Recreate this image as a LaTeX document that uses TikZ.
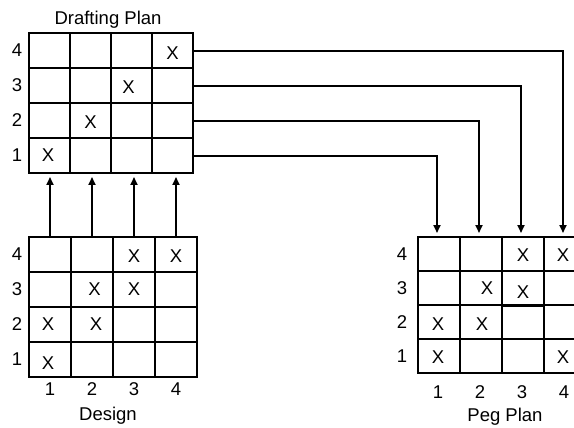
\documentclass[tikz,border=0pt]{standalone}
\usepackage{fontspec}
\setmainfont{Liberation Sans}
\usetikzlibrary{arrows.meta}
\tikzset{
  cellbox/.style={draw, line width=2pt, inner sep=0pt, outer sep=0pt},
  txt/.style={inner sep=0pt, font=\fontsize{18.5}{22}\selectfont},
  conn/.style={line width=1.8pt, -{Triangle[width=7pt,length=8pt]}, shorten >=4pt},
}
\newcommand{\mygrid}[5]{%
  \foreach \r in {1,...,4}{\foreach \c in {1,...,4}{
    \node[cellbox, minimum width=#4pt, minimum height=#5pt] (#1-\r-\c) at ({#2+(\c-0.5)*#4},{#3+(4.5-\r)*#5}) {};
  }}}
\begin{document}
\begin{tikzpicture}[x=1pt,y=-1pt]
\useasboundingbox (0,0) rectangle (574,428);
\clip (0,0) rectangle (574,428);
% grids
\mygrid{F}{29}{33}{41}{35}
\mygrid{D}{29}{237}{42}{35}
\mygrid{P}{418}{237}{42}{34}
\draw[line width=3pt] (P-3-3.south west) -- (P-3-3.south east);
% titles
\node[txt] (tF) at (108,20) {Drafting Plan};
\node[txt] (tD) at (108,416) {Design};
\node[txt] (tP) at (505,417) {Peg Plan};
% row labels
\foreach \r in {1,...,4}{
  \node[txt] (fr\r) at (17,0 |- F-\r-1) {\r};
  \node[txt] (dr\r) at (17,0 |- D-\r-1) {\r};
  \node[txt] (pr\r) at (402,0 |- P-\r-1) {\r};
}
% column labels
\foreach \c in {1,...,4}{
  \node[txt] (dc\c) at (D-1-\c |- 0,389) {\c};
  \node[txt] (pc\c) at ([xshift=-1pt]P-1-\c |- 0,392) {\c};
}
% X marks: drafting
\node[txt, yshift=-3pt] (xf44) at (F-4-4) {X};
\node[txt, xshift=-3pt, yshift=-2pt] (xf33) at (F-3-3) {X};
\node[txt, yshift=-2pt] (xf22) at (F-2-2) {X};
\node[txt, xshift=-1.5pt] (xf11) at (F-1-1) {X};
% X marks: design
\node[txt, yshift=-1.5pt] (xd43) at (D-4-3) {X};
\node[txt, yshift=-1.5pt] (xd44) at (D-4-4) {X};
\node[txt, xshift=2.5pt] (xd32) at (D-3-2) {X};
\node[txt] (xd33) at (D-3-3) {X};
\node[txt, xshift=-2pt] (xd21) at (D-2-1) {X};
\node[txt, xshift=4pt] (xd22) at (D-2-2) {X};
\node[txt, xshift=-2pt, yshift=-3.5pt] (xd11) at (D-1-1) {X};
% X marks: peg plan
\node[txt, yshift=-1pt] (xp43) at (P-4-3) {X};
\node[txt, xshift=-2pt, yshift=-1pt] (xp44) at (P-4-4) {X};
\node[txt, xshift=6pt] (xp32) at (P-3-2) {X};
\node[txt, yshift=-4.5pt] (xp33) at (P-3-3) {X};
\node[txt, xshift=-1pt, yshift=-2pt] (xp21) at (P-2-1) {X};
\node[txt, xshift=1pt, yshift=-2pt] (xp22) at (P-2-2) {X};
\node[txt, xshift=-1pt, yshift=-1pt] (xp11) at (P-1-1) {X};
\node[txt, xshift=-2pt, yshift=-1pt] (xp14) at (P-1-4) {X};
% connectors
\foreach \c in {1,...,4}{
  \draw[conn] (D-4-\c.north) -- (D-4-\c.north |- F-1-\c.south);
  \draw[conn] ([yshift=-0.5pt]F-\c-4.east) -| ([xshift=-2pt]P-4-\c.north);
}
\end{tikzpicture}
\end{document}
